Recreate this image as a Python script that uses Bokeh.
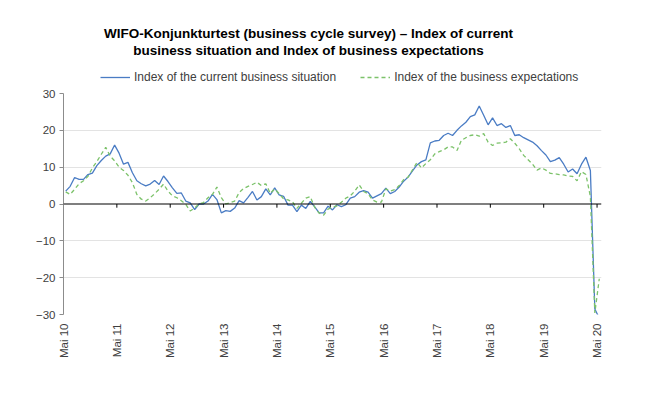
import math
from bokeh.plotting import figure
from bokeh.layouts import column
from bokeh.models import (FixedTicker, Span, Legend, LegendItem, Label, Range1d,
                          ColumnDataSource)
from bokeh.embed import file_html
from bokeh.resources import INLINE

# ---- data (monthly, May 2010 .. May 2020) ----
tick_labels = ["Mai 10", "Mai 11", "Mai 12", "Mai 13", "Mai 14", "Mai 15",
               "Mai 16", "Mai 17", "Mai 18", "Mai 19", "Mai 20"]
y_ticks = [-30, -20, -10, 0, 10, 20, 30]

current = [3.5, 4.8, 7.2, 6.7, 6.7, 8.0, 8.4, 10.4, 11.8, 13.0,
           13.6, 16.0, 13.8, 10.8, 11.3, 8.5, 6.3, 5.5, 4.9, 5.4,
           6.4, 5.3, 7.6, 6.1, 4.4, 2.9, 3.0, 0.8, 0.3, -1.5,
           0.0, 0.0, 0.8, 2.6, 1.2, -2.4, -1.8, -2.0, -1.1, 0.9,
           0.3, 1.8, 3.4, 1.1, 2.0, 4.1, 2.5, 4.4, 2.5, 2.1,
           -0.3, -0.3, -2.1, -0.3, -1.2, 0.7, -0.8, -2.4, -2.4, -0.6,
           -1.6, -0.2, -0.7, -0.2, 1.6, 2.0, 3.2, 3.6, 3.2, 1.6,
           2.2, 2.8, 4.3, 2.8, 3.4, 4.6, 6.2, 7.3, 9.0, 10.6,
           11.5, 12.0, 16.6, 17.1, 17.3, 18.6, 19.2, 18.6, 20.0, 21.2,
           22.2, 23.7, 24.2, 26.6, 24.1, 21.5, 23.4, 21.3, 21.8, 20.8,
           21.3, 18.6, 18.8, 18.0, 17.4, 16.8, 15.8, 14.5, 13.3, 11.5,
           11.9, 12.6, 10.8, 8.7, 9.5, 8.2, 10.8, 12.7, 9.1, -28.5,
           -31.0]

expectations = [3.3, 2.6, 4.0, 5.5, 6.3, 7.5, 9.8, 11.5, 13.5, 15.4,
                13.0, 11.7, 10.0, 9.1, 7.8, 5.8, 2.6, 1.3, 0.8, 1.7,
                2.8, 4.0, 5.4, 3.5, 2.2, 1.7, 0.9, -0.1, -1.9, -1.1,
                0.0, 0.4, 1.7, 2.6, 4.6, 1.7, 0.0, 0.4, 0.8, 3.1,
                4.2, 4.8, 5.3, 5.9, 5.0, 5.5, 2.9, 4.1, 2.8, 1.4,
                1.1, 0.6, -1.2, 0.2, 1.6, 2.0, -0.9, -2.5, -3.0, -1.4,
                -0.9, -0.5, 0.5, 1.6, 2.2, 3.5, 5.2, 3.4, 2.8, 1.1,
                0.5, 0.5, 4.1, 3.5, 3.9, 5.0, 6.6, 7.3, 9.3, 11.3,
                9.8, 11.0, 12.0, 13.6, 14.2, 14.7, 15.5, 15.5, 14.5, 17.3,
                18.0, 18.6, 18.8, 18.4, 19.1, 16.8, 15.9, 16.5, 16.6, 16.8,
                17.7, 16.5, 15.0, 13.2, 12.0, 10.8, 9.2, 9.8, 9.2, 8.3,
                8.2, 8.0, 7.9, 7.6, 7.5, 6.3, 8.8, 8.0, 2.0, -29.6,
                -20.3]

series_names = ["Index of the current business situation",
                "Index of the business expectations"]
title_lines = ["WIFO-Konjunkturtest (business cycle survey) \u2013 Index of current",
               "business situation and Index of business expectations"]

n = len(current)
month_x = [i + 0.5 for i in range(n)]          # centre of each month slot
tick_pos = [12 * k for k in range(len(tick_labels))]

src = ColumnDataSource(dict(x=month_x, cur=current, exp=expectations))

FONT = "Liberation Sans"
TXT = "#404040"
BLUE = "#4a7cc4"
GREEN = "#7cc26a"
W = 629
HEAD_H = 85
LEFT, RIGHT = 63, 28

# ---------------- header (title + legend) ----------------
# header frame is aligned with the chart frame; its x range is in page pixels
head = figure(width=W, height=HEAD_H, output_backend="svg", toolbar_location=None,
              x_range=Range1d(LEFT, W - RIGHT), y_range=Range1d(0, HEAD_H),
              x_axis_type=None, y_axis_type=None,
              min_border_left=LEFT, min_border_right=RIGHT,
              min_border_top=0, min_border_bottom=0)
head.outline_line_color = None
head.xgrid.grid_line_color = None
head.ygrid.grid_line_color = None

for txt, yy in zip(title_lines, [52, 35]):
    head.add_layout(Label(x=308, y=yy, text=txt, text_align="center",
                          text_baseline="alphabetic", text_font=FONT,
                          text_font_style="bold", text_font_size="13.5px",
                          text_color="black"))

# legend proxies (single point -> no visible line in the header)
h_cur = head.line(x=month_x[:1], y=current[:1], line_color=BLUE, line_width=1.3)
h_exp = head.line(x=month_x[:1], y=expectations[:1], line_color=GREEN,
                  line_width=1.3, line_dash="4 3")
legend = Legend(items=[LegendItem(label=series_names[0], renderers=[h_cur]),
                       LegendItem(label=series_names[1], renderers=[h_exp])],
                orientation="horizontal", location=(100 - LEFT, 1),
                glyph_width=30, glyph_height=14, label_height=14, label_standoff=4,
                spacing=24, padding=0, margin=0, border_line_color=None,
                background_fill_alpha=0,
                label_text_font=FONT, label_text_font_size="12px",
                label_text_color=TXT)
head.add_layout(legend, "center")

# ---------------- main chart ----------------
p = figure(width=W, height=380 - HEAD_H, output_backend="svg", toolbar_location=None,
           x_range=Range1d(0, n), y_range=Range1d(-30, 30),
           min_border_left=LEFT, min_border_right=RIGHT, min_border_top=8,
           min_border_bottom=66)
p.outline_line_color = None
p.background_fill_color = "white"

p.xgrid.grid_line_color = None
p.ygrid.ticker = FixedTicker(ticks=[t for t in y_ticks if t != 0])
p.ygrid.grid_line_color = "#e3e3e3"
p.ygrid.grid_line_width = 1

p.yaxis.ticker = FixedTicker(ticks=y_ticks)
p.yaxis.axis_line_color = "#8c8c8c"
p.yaxis.major_tick_line_color = "#8c8c8c"
p.yaxis.major_tick_out = 4
p.yaxis.major_tick_in = 0
p.yaxis.minor_tick_line_color = None
p.yaxis.major_label_text_font = FONT
p.yaxis.major_label_text_font_size = "11.5px"
p.yaxis.major_label_text_color = TXT
p.yaxis.major_label_standoff = 4

p.xaxis.ticker = FixedTicker(ticks=tick_pos)
p.xaxis.major_label_overrides = {t: l for t, l in zip(tick_pos, tick_labels)}
p.xaxis.major_label_orientation = math.pi / 2
p.xaxis.axis_line_color = None
p.xaxis.major_tick_line_color = None
p.xaxis.minor_tick_line_color = None
p.xaxis.major_label_text_font = FONT
p.xaxis.major_label_text_font_size = "11.5px"
p.xaxis.major_label_text_color = TXT
p.xaxis.major_label_standoff = 3

p.add_layout(Span(location=0, dimension="width", line_color="black", line_width=1.2))
p.segment(x0=tick_pos, y0=[0] * len(tick_pos), x1=tick_pos, y1=[-1.0] * len(tick_pos),
          line_color="black", line_width=1)

p.line("x", "cur", source=src, line_color=BLUE, line_width=1.3)
p.line("x", "exp", source=src, line_color=GREEN, line_width=1.3, line_dash="4 3")

layout = column(head, p, spacing=0)
open("out.html", "w").write(file_html(layout, INLINE))
